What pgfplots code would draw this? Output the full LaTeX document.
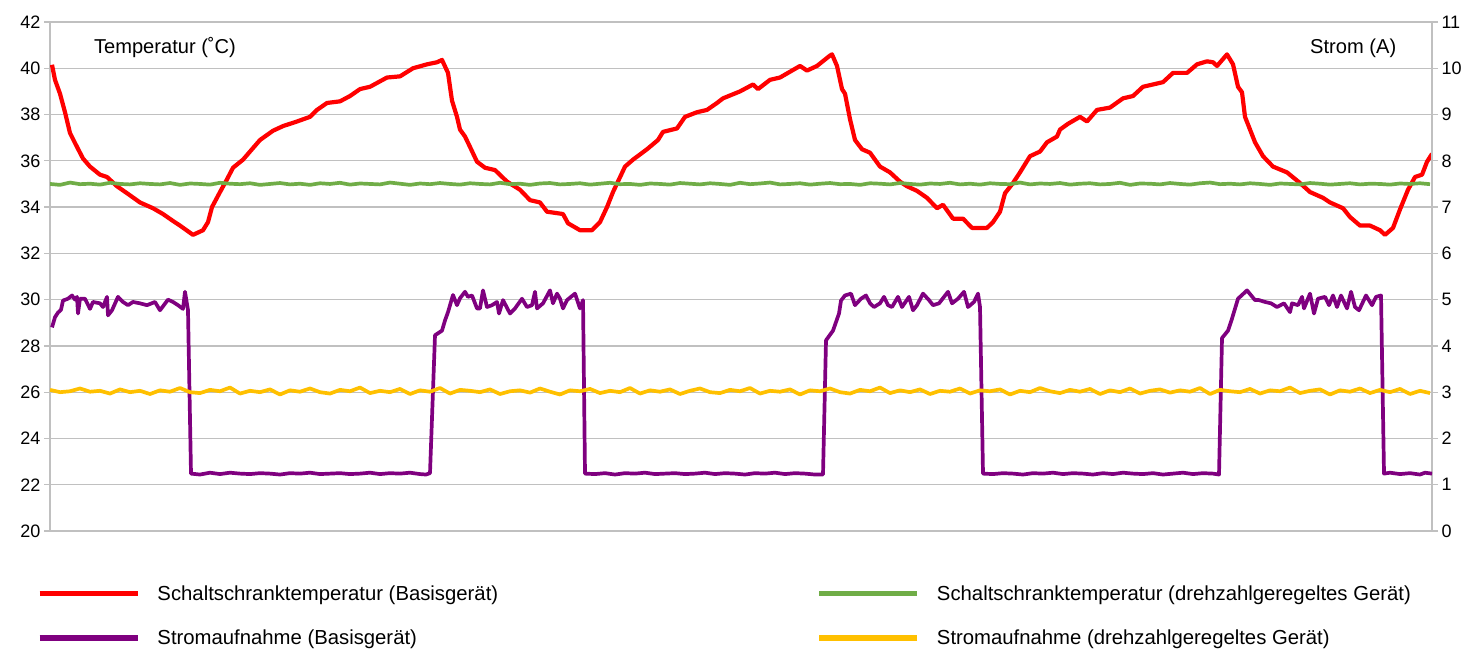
\documentclass[border=0pt]{standalone}
\usepackage{fontspec}
\setmainfont{Liberation Sans}
\usepackage{pgfplots}
\pgfplotsset{compat=1.18}
\definecolor{cred}{HTML}{FF0000}
\definecolor{cgreen}{HTML}{70AD47}
\definecolor{cpurple}{HTML}{7F007F}
\definecolor{cyellow}{HTML}{FFC000}
\definecolor{cgrid}{HTML}{C0C0C0}
\pgfplotsset{
  base/.style={
    at={(50pt,119pt)}, anchor=south west, width=1382pt, height=509pt, scale only axis,
    xmin=50, xmax=1432, xtick=\empty,
    tick align=outside, major tick length=6pt,
    tick style={cgrid, line width=1.2pt},
    axis line style={cgrid, line width=1.6pt},
    /pgf/number format/assume math mode=true,
    tick label style={font=\fontsize{18}{20}\selectfont, text=black},
  }
}
\begin{document}
\begin{tikzpicture}
\useasboundingbox (0,0) rectangle (1482pt,650pt);
\begin{axis}[base,
  axis x line*=bottom, axis y line*=left,
  ymin=20, ymax=42, ytick={20,22,...,42},
  ymajorgrids, grid style={cgrid, line width=1.2pt},
]
% Schaltschranktemperatur (Basisgeraet)
\addplot[cred, line width=4.2pt, line join=round] coordinates {
(52,40.15)(55,39.5)(60,38.9)(65,38.1)(70,37.2)(77,36.6)(83,36.1)(90,35.75)(100,35.4)(107,35.3)
(117,34.9)(127,34.6)(140,34.2)(153,33.95)(163,33.7)(173,33.4)(180,33.2)(193,32.8)(203,33.0)(208,33.35)
(212,34.0)(220,34.65)(227,35.2)(233,35.7)(243,36.05)(250,36.4)(260,36.9)(273,37.3)(283,37.5)(297,37.7)
(310,37.9)(317,38.2)(327,38.5)(340,38.57)(350,38.8)(360,39.1)(370,39.2)(387,39.6)(400,39.65)(413,40.0)
(427,40.17)(437,40.26)(442,40.36)(448,39.8)(452,38.6)(457,37.9)(460,37.35)(465,37.05)(470,36.6)(477,35.96)
(485,35.7)(495,35.6)(507,35.1)(520,34.75)(530,34.3)(540,34.2)(547,33.8)(563,33.7)(568,33.3)(580,33.0)
(592,33.0)(600,33.35)(607,34.0)(613,34.65)(625,35.75)(633,36.05)(647,36.5)(658,36.9)(663,37.25)(677,37.4)
(685,37.9)(697,38.1)(707,38.2)(717,38.5)(723,38.7)(740,39.0)(753,39.3)(758,39.1)(770,39.5)(780,39.6)
(792,39.9)(800,40.1)(807,39.9)(817,40.1)(830,40.55)(832,40.6)(837,40.1)(842,39.1)(845,38.9)(850,37.8)
(855,36.9)(862,36.5)(870,36.35)(880,35.75)(890,35.5)(900,35.1)(907,34.9)(917,34.7)(927,34.4)(937,33.95)
(943,34.1)(953,33.5)(963,33.5)(972,33.1)(987,33.1)(993,33.35)(1000,33.8)(1005,34.6)(1013,35.04)(1020,35.5)
(1030,36.2)(1040,36.4)(1047,36.8)(1057,37.05)(1060,37.35)(1068,37.6)(1080,37.9)(1087,37.7)(1097,38.2)(1110,38.3)
(1123,38.7)(1133,38.8)(1143,39.2)(1153,39.3)(1163,39.4)(1173,39.8)(1187,39.8)(1197,40.17)(1207,40.3)(1213,40.26)
(1217,40.1)(1227,40.6)(1233,40.17)(1238,39.2)(1242,38.96)(1245,37.9)(1250,37.35)(1255,36.8)(1263,36.2)(1273,35.75)
(1287,35.5)(1300,35.04)(1310,34.65)(1323,34.4)(1330,34.2)(1343,33.95)(1350,33.57)(1360,33.2)(1370,33.2)(1380,33.0)
(1385,32.8)(1393,33.1)(1400,33.9)(1408,34.75)(1415,35.3)(1422,35.4)(1427,35.96)(1432,36.3)
};
% Schaltschranktemperatur (drehzahlgeregeltes Geraet)
\addplot[cgreen, line width=3.7pt, line join=round] coordinates {
(50,35.00)(60,34.96)(70,35.06)(80,34.99)(90,35.01)(100,34.97)(110,35.05)(120,35.00)(130,34.98)(140,35.03)
(150,35.00)(160,34.98)(170,35.04)(180,34.96)(190,35.02)(200,35.00)(210,34.97)(220,35.05)(230,35.01)(240,34.99)
(250,35.03)(260,34.96)(270,35.00)(280,35.04)(290,34.98)(300,35.01)(310,34.96)(320,35.03)(330,35.00)(340,35.05)
(350,34.97)(360,35.02)(370,35.00)(380,34.98)(390,35.06)(400,35.01)(410,34.96)(420,35.02)(430,34.99)(440,35.04)
(450,35.00)(460,34.97)(470,35.03)(480,35.00)(490,34.98)(500,35.05)(510,34.99)(520,35.01)(530,34.96)(540,35.02)
(550,35.04)(560,34.98)(570,35.00)(580,35.03)(590,34.97)(600,35.01)(610,35.05)(620,34.99)(630,35.00)(640,34.96)
(650,35.02)(660,35.00)(670,34.97)(680,35.04)(690,35.01)(700,34.98)(710,35.03)(720,35.00)(730,34.96)(740,35.05)
(750,34.99)(760,35.02)(770,35.06)(780,34.98)(790,35.00)(800,35.03)(810,34.97)(820,35.01)(830,35.04)(840,34.99)
(850,35.00)(860,34.96)(870,35.03)(880,35.01)(890,34.98)(900,35.04)(910,35.00)(920,34.97)(930,35.02)(940,35.00)
(950,35.05)(960,34.98)(970,35.01)(980,34.97)(990,35.03)(1000,35.00)(1010,34.99)(1020,35.06)(1030,34.98)(1040,35.02)
(1050,35.00)(1060,35.04)(1070,34.97)(1080,35.01)(1090,35.03)(1100,34.98)(1110,35.00)(1120,35.05)(1130,34.96)(1140,35.02)
(1150,35.01)(1160,34.98)(1170,35.04)(1180,35.00)(1190,34.97)(1200,35.03)(1210,35.06)(1220,34.99)(1230,35.01)(1240,34.98)
(1250,35.03)(1260,35.00)(1270,34.96)(1280,35.02)(1290,35.00)(1300,34.98)(1310,35.04)(1320,35.01)(1330,34.97)(1340,35.00)
(1350,35.03)(1360,34.98)(1370,35.01)(1380,35.00)(1390,34.97)(1400,35.02)(1410,35.00)(1420,35.03)(1430,34.99)
};
\node[font=\fontsize{20.1}{23}\selectfont] at (rel axis cs:0.0832,0.949) {Temperatur (˚C)};
\node[font=\fontsize{20.1}{23}\selectfont] at (rel axis cs:0.943,0.949) {Strom (A)};
\node[font=\fontsize{20.1}{23}\selectfont, anchor=base, yshift=-22pt] at (rel axis cs:0.5,0) {Zeit};
\end{axis}
\begin{axis}[base,
  axis x line=none, axis y line*=right,
  ymin=0, ymax=11, ytick={0,1,...,11},
  legend columns=2,
  legend cell align=left,
  legend image code/.code={\draw[#1, line width=5.5pt, line cap=butt] (0pt,0pt) -- (98pt,0pt);},
  legend style={at={(axis description cs:-0.00941,-0.107)}, anchor=north west,
    draw=none, fill=none, inner sep=0pt, outer sep=0pt,
    nodes={inner sep=0pt}, row sep=28pt, column sep=0pt,
    font=\fontsize{20.3}{23}\selectfont,
    /tikz/every odd column/.append style={column sep=17pt}},
]
\addlegendimage{cred, line width=4.2pt}
\addlegendentry{\makebox[659pt][l]{Schaltschranktemperatur (Basisgerät)}}
\addlegendimage{cgreen, line width=3.7pt}
\addlegendentry{Schaltschranktemperatur (drehzahlgeregeltes Gerät)}
% Stromaufnahme (Basisgeraet)
\addplot[cpurple, line width=3.7pt, line join=round] coordinates {
(52,4.40)(55,4.62)(58,4.72)(61,4.78)(63,4.98)(68,5.02)(72,5.09)(75,5.00)(77,5.06)(78,4.70)
(80,5.02)(85,5.02)(90,4.80)(93,4.95)(100,4.92)(103,4.84)(107,5.06)(108,4.66)(112,4.77)(118,5.06)
(123,4.95)(128,4.88)(133,4.95)(140,4.92)(147,4.88)(155,4.95)(160,4.77)(168,5.00)(173,4.95)(178,4.88)
(183,4.80)(185,5.17)(188,4.77)(191,1.24)(200,1.22)(210,1.26)(220,1.23)(230,1.26)(240,1.24)(250,1.23)
(260,1.25)(270,1.24)(280,1.22)(290,1.25)(300,1.24)(310,1.26)(320,1.23)(330,1.24)(340,1.25)(350,1.23)
(360,1.24)(370,1.26)(380,1.23)(390,1.25)(400,1.24)(410,1.26)(420,1.23)(426,1.22)(430,1.25)(435,4.23)
(442,4.33)(445,4.55)(448,4.73)(453,5.10)(457,4.88)(460,5.03)(465,5.17)(468,5.06)(472,5.09)(477,4.81)
(480,4.81)(483,5.20)(487,4.84)(492,4.88)(497,4.95)(499,4.70)(503,4.99)(510,4.70)(515,4.81)(522,5.02)
(527,4.84)(532,4.88)(535,5.17)(537,4.81)(543,4.92)(550,5.20)(553,4.92)(557,5.13)(560,5.02)(563,4.81)
(567,4.99)(575,5.13)(580,4.81)(583,4.99)(585,1.24)(595,1.23)(605,1.25)(615,1.22)(625,1.25)(635,1.24)
(645,1.26)(655,1.23)(665,1.24)(675,1.25)(685,1.23)(695,1.24)(705,1.26)(715,1.23)(725,1.25)(735,1.24)
(745,1.22)(755,1.25)(765,1.24)(775,1.26)(785,1.23)(795,1.25)(805,1.24)(815,1.22)(823,1.22)(826,4.12)
(833,4.33)(839,4.70)(841,4.98)(845,5.09)(851,5.13)(855,4.88)(861,5.02)(866,5.09)(870,4.92)(874,4.84)
(880,4.92)(884,5.06)(888,4.88)(892,4.84)(898,5.06)(902,4.84)(909,5.06)(913,4.77)(917,4.88)(923,5.13)
(929,4.99)(933,4.88)(939,4.92)(948,5.17)(952,4.92)(958,5.02)(964,5.17)(968,4.84)(974,4.95)(978,5.13)
(980,4.84)(983,1.24)(993,1.23)(1003,1.25)(1013,1.24)(1023,1.22)(1033,1.25)(1043,1.24)(1053,1.26)(1063,1.23)
(1073,1.25)(1083,1.24)(1093,1.22)(1103,1.25)(1113,1.23)(1123,1.26)(1133,1.24)(1143,1.23)(1153,1.25)(1163,1.22)
(1173,1.24)(1183,1.26)(1193,1.23)(1203,1.25)(1213,1.24)(1219,1.22)(1222,4.17)(1228,4.33)(1232,4.59)(1238,5.02)
(1247,5.20)(1255,4.99)(1259,4.99)(1265,4.95)(1271,4.92)(1277,4.84)(1284,4.92)(1290,4.73)(1292,4.92)(1298,4.88)
(1302,5.06)(1304,4.81)(1310,5.13)(1314,4.70)(1318,5.02)(1325,5.06)(1329,4.88)(1333,5.09)(1337,4.84)(1341,5.09)
(1347,4.81)(1351,5.17)(1355,4.84)(1359,4.77)(1366,5.09)(1372,4.88)(1376,5.06)(1381,5.09)(1384,1.24)(1390,1.26)
(1400,1.23)(1410,1.25)(1420,1.22)(1425,1.26)(1432,1.24)
};
\addlegendentry{Stromaufnahme (Basisgerät)}
% Stromaufnahme (drehzahlgeregeltes Geraet)
\addplot[cyellow, line width=3.7pt, line join=round] coordinates {
(50,3.05)(60,3.00)(70,3.02)(80,3.08)(90,3.01)(100,3.03)(110,2.97)(120,3.06)(130,3.00)(140,3.03)
(150,2.96)(160,3.04)(170,3.01)(180,3.09)(190,3.00)(200,2.98)(210,3.05)(220,3.02)(230,3.10)(240,2.97)
(250,3.03)(260,3.00)(270,3.06)(280,2.95)(290,3.04)(300,3.01)(310,3.08)(320,3.00)(330,2.97)(340,3.05)
(350,3.02)(360,3.10)(370,2.98)(380,3.03)(390,3.00)(400,3.07)(410,2.96)(420,3.04)(430,3.01)(440,3.09)
(450,2.97)(460,3.05)(470,3.03)(480,3.00)(490,3.06)(500,2.96)(510,3.02)(520,3.04)(530,2.99)(540,3.08)
(550,3.01)(560,2.95)(570,3.04)(580,3.02)(590,3.07)(600,2.98)(610,3.03)(620,3.00)(630,3.09)(640,2.97)
(650,3.04)(660,3.01)(670,3.06)(680,2.96)(690,3.03)(700,3.08)(710,3.00)(720,2.98)(730,3.05)(740,3.02)
(750,3.09)(760,2.97)(770,3.03)(780,3.01)(790,3.06)(800,2.95)(810,3.04)(820,3.02)(830,3.08)(840,3.00)
(850,2.97)(860,3.05)(870,3.02)(880,3.10)(890,2.98)(900,3.04)(910,3.00)(920,3.06)(930,2.96)(940,3.03)
(950,3.01)(960,3.08)(970,2.97)(980,3.04)(990,3.02)(1000,3.06)(1010,2.95)(1020,3.03)(1030,3.00)(1040,3.09)
(1050,3.02)(1060,2.98)(1070,3.05)(1080,3.01)(1090,3.07)(1100,2.96)(1110,3.04)(1120,3.00)(1130,3.08)(1140,2.97)
(1150,3.03)(1160,3.06)(1170,2.99)(1180,3.04)(1190,3.01)(1200,3.09)(1210,2.96)(1220,3.05)(1230,3.02)(1240,3.00)
(1250,3.07)(1260,2.97)(1270,3.04)(1280,3.02)(1290,3.10)(1300,2.98)(1310,3.03)(1320,3.06)(1330,2.95)(1340,3.04)
(1350,3.01)(1360,3.08)(1370,2.98)(1380,3.05)(1390,3.00)(1400,3.07)(1410,2.96)(1420,3.03)(1430,2.98)
};
\addlegendentry{Stromaufnahme (drehzahlgeregeltes Gerät)}
\end{axis}
\end{tikzpicture}
\end{document}
